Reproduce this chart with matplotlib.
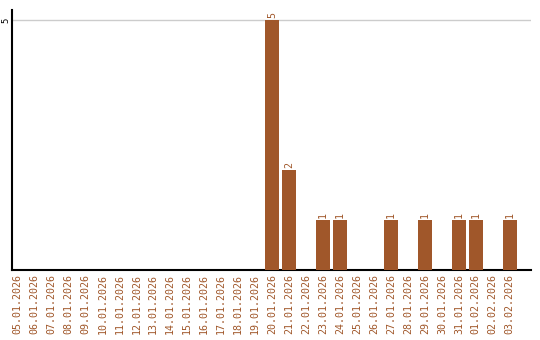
import matplotlib
matplotlib.use('Agg')
import matplotlib.pyplot as plt

dates = ['05.01.2026', '06.01.2026', '07.01.2026', '08.01.2026', '09.01.2026',
         '10.01.2026', '11.01.2026', '12.01.2026', '13.01.2026', '14.01.2026',
         '15.01.2026', '16.01.2026', '17.01.2026', '18.01.2026', '19.01.2026',
         '20.01.2026', '21.01.2026', '22.01.2026', '23.01.2026', '24.01.2026',
         '25.01.2026', '26.01.2026', '27.01.2026', '28.01.2026', '29.01.2026',
         '30.01.2026', '31.01.2026', '01.02.2026', '02.02.2026', '03.02.2026']
counts = [0, 0, 0, 0, 0, 0, 0, 0, 0, 0, 0, 0, 0, 0, 0,
          5, 2, 0, 1, 1, 0, 0, 1, 0, 1, 0, 1, 1, 0, 1]

bar_color = '#a0572a'
font = 'DejaVu Sans Mono'

fig = plt.figure(figsize=(5.4, 3.4), dpi=100)
ax = fig.add_axes([11.5 / 540, 70 / 340, 519.5 / 540, 260 / 340])

x = list(range(len(dates)))
ax.bar(x, counts, width=0.82, color=bar_color, zorder=3)

# value labels over the non-empty bars
for i, c in enumerate(counts):
    if c > 0:
        ax.text(i, c + 0.04, str(c), rotation=90, ha='center', va='bottom',
                fontsize=7.2, family=font, color=bar_color)

ax.set_xlim(-0.35, 30.25)
ax.set_ylim(0, 5.2)
ax.set_xticks(x)
ax.set_xticklabels(dates, rotation=90, fontsize=7.2, family=font, color=bar_color)
ax.set_yticks([5])
ax.set_yticklabels(['5'], rotation=90, fontsize=6.5, family=font, va='center')
ax.tick_params(axis='x', length=0, pad=3)
ax.tick_params(axis='y', length=0, pad=1)
ax.grid(axis='y', color='#cccccc', linewidth=1, zorder=0)

for s in ['top', 'right']:
    ax.spines[s].set_visible(False)
ax.spines['left'].set_linewidth(1.5)
ax.spines['bottom'].set_linewidth(1.5)

fig.savefig('out.png', dpi=100)
